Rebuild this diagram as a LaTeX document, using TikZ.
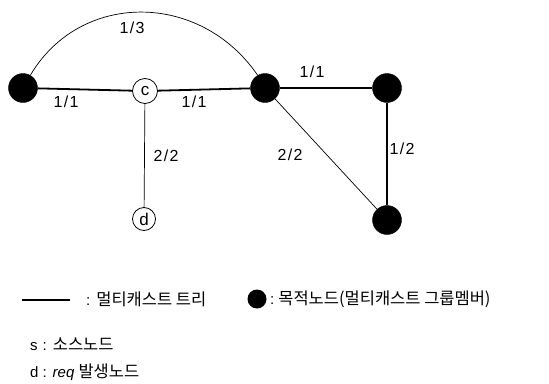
\documentclass[tikz,border=0pt]{standalone}
\usepackage{fontspec}
\setmainfont{Liberation Sans}
\newfontfamily\kr{Noto Sans CJK KR}
\newcommand{\krs}[1]{{\fontsize{16.5}{16.5}\kr #1}}
\begin{document}
\begin{tikzpicture}[x=1pt,y=-1pt,
  dest/.style={circle,fill=black,draw=black,minimum size=29pt,inner sep=0pt},
  plain/.style={circle,fill=white,draw=black,line width=0.8pt,minimum size=25pt,inner sep=0pt,font=\fontsize{17}{17}\selectfont},
  tree/.style={line width=1.8pt},
  thin/.style={line width=0.7pt},
  lbl/.style={font=\fontsize{16}{16}\selectfont\addfontfeatures{LetterSpace=8},inner sep=0pt},
  leg/.style={font=\fontsize{15}{15}\selectfont,inner sep=0pt,anchor=west}]
\useasboundingbox (0,0) rectangle (549,383);
\node[dest] (a) at (23,88) {};
\node[plain] (c) at (145,91) {c};
\node[dest] (b) at (265,88) {};
\node[dest] (e) at (387,88) {};
\node[dest] (f) at (387,220) {};
\node[plain,minimum size=23pt] (d) at (144,219) {d};
\draw[tree] (a) -- (c);
\draw[tree] (c) -- (b);
\draw[tree] (b) -- (e);
\draw[tree] (e) -- (f);
\draw[thin] (b) -- (f);
\draw[thin] (c) -- (d);
\draw[thin] (a.60) .. controls (80,-9) and (200,-9) .. (b.120);
\node[lbl] at (132,28) {1/3};
\node[lbl] at (66,102) {1/1};
\node[lbl] at (194,102) {1/1};
\node[lbl] at (312,72) {1/1};
\node[lbl] at (166,156) {2/2};
\node[lbl] at (290,155) {2/2};
\node[lbl] at (402,149) {1/2};
% legend
\coordinate (l1) at (22,300);
\coordinate (l2) at (70,300);
\draw[line width=1.3pt] (l1) -- (l2);
\node[leg] (t1) at (86,299) {:\hspace{6pt}\krs{멀티캐스트 트리}};
\node[circle,fill=black,minimum size=19pt,inner sep=0pt] (ld) at (257,299) {};
\node[leg] (t2) at (270,299) {:\hspace{4pt}\krs{목적노드(멀티캐스트 그룹멤버)}};
\node[leg] (t3) at (30,344) {s\hspace{5pt}:\hspace{6pt}\krs{소스노드}};
\node[leg] (t4) at (30,372) {d\hspace{4pt}:\hspace{6pt}\textit{req} \krs{발생노드}};
\end{tikzpicture}
\end{document}
